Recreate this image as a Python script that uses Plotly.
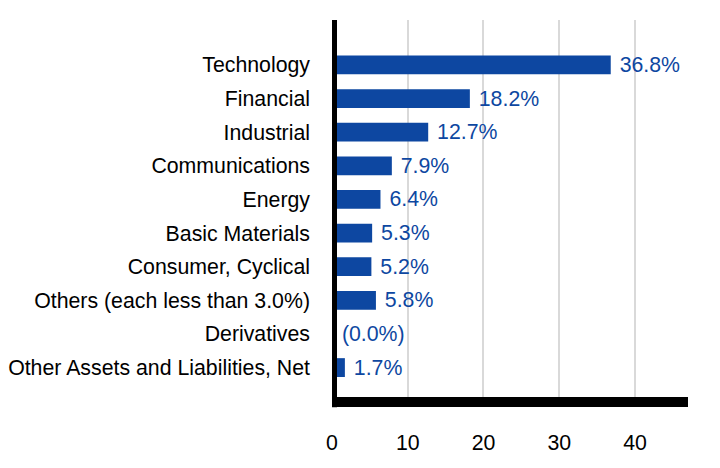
import plotly.graph_objects as go

categories = [
    "Technology",
    "Financial",
    "Industrial",
    "Communications",
    "Energy",
    "Basic Materials",
    "Consumer, Cyclical",
    "Others (each less than 3.0%)",
    "Derivatives",
    "Other Assets and Liabilities, Net",
]
# derivatives is a tiny value that rounds to 0.0%
values = [36.8, 18.2, 12.7, 7.9, 6.4, 5.3, 5.2, 5.8, 0.01, 1.7]
labels = ["36.8%", "18.2%", "12.7%", "7.9%", "6.4%", "5.3%", "5.2%", "5.8%", "(0.0%)", "1.7%"]
x_ticks = [0, 10, 20, 30, 40]

blue = "#0d47a1"
font = "Liberation Sans, Arial, sans-serif"
fsize = 21.3

fig = go.Figure()
fig.add_trace(go.Bar(
    x=values,
    y=categories,
    orientation="h",
    width=0.56,
    marker=dict(color=blue, line=dict(width=0)),
    text=[" " + t for t in labels],
    textposition="outside",
    constraintext="none",
    textfont=dict(color=blue, size=fsize, family=font),
    cliponaxis=False,
    hoverinfo="skip",
))

# thick black left axis bar sitting on top of the bar starts
fig.add_shape(type="line", xref="x", yref="paper", x0=0, x1=0, y0=-0.027, y1=1,
              line=dict(color="black", width=10), layer="above")

fig.update_layout(
    width=720,
    height=468,
    margin=dict(l=324, r=40, t=12, b=79),
    paper_bgcolor="white",
    plot_bgcolor="white",
    showlegend=False,
    font=dict(family=font, size=fsize, color="black"),
    xaxis=dict(
        range=[0, 47.0],
        tickvals=x_ticks,
        ticks="",
        ticklabelstandoff=17,
        automargin=False,
        showgrid=True,
        gridcolor="#d9d9d9",
        gridwidth=2,
        zeroline=False,
        showline=True,
        linecolor="black",
        linewidth=10,
        tickfont=dict(size=fsize, color="black"),
    ),
    yaxis=dict(
        categoryorder="array",
        categoryarray=categories[::-1],
        range=[-0.875, 10.336],
        ticks="",
        ticklabelstandoff=21,
        automargin=False,
        showgrid=False,
        zeroline=False,
        showline=False,
        tickfont=dict(size=fsize, color="black"),
    ),
)

fig.write_html("out.html")
